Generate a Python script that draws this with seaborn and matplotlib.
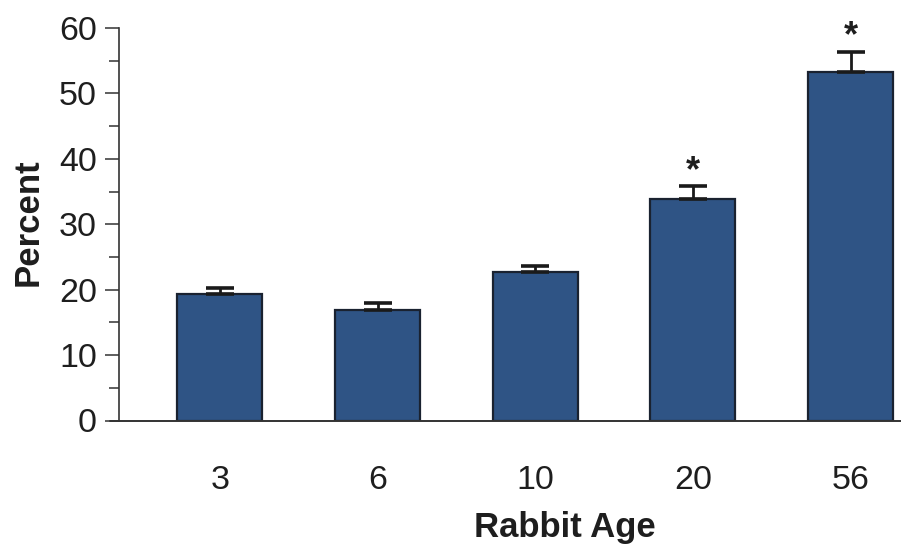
import matplotlib
matplotlib.use("Agg")
import matplotlib.pyplot as plt
from matplotlib.ticker import MultipleLocator
import seaborn as sns
import pandas as pd

ages = ["3", "6", "10", "20", "56"]
percent = [19.3, 16.9, 22.7, 33.8, 53.3]
sem = [0.9, 1.0, 0.85, 2.1, 3.1]
significant = [False, False, False, True, True]

sns.set_theme(style="white")
plt.rcParams["font.family"] = ["Liberation Sans", "DejaVu Sans"]

df = pd.DataFrame({"age": ages, "percent": percent})

fig = plt.figure(figsize=(9.01, 5.48), dpi=100)
ax = fig.add_axes([119 / 901, 127.5 / 548, 1 - 119 / 901, 392.5 / 548])

bar_color = "#2f5485"
sns.barplot(data=df, x="age", y="percent", color=bar_color, width=0.54,
            saturation=1, edgecolor="#1a2230", linewidth=1.6, ax=ax)

# upward-only error bars
xs = range(len(ages))
ax.errorbar(xs, percent, yerr=[[0] * len(sem), sem], fmt="none",
            ecolor="#1a1a1a", elinewidth=2.0, capsize=10, capthick=2.6, zorder=5)

for x, y, e, sig in zip(xs, percent, sem, significant):
    if sig:
        ax.text(x, y + e + 2.2, "*", ha="center", va="center",
                fontsize=26, fontweight="bold", color="#1e1e1e")

ax.set_xlim(-0.64, 4.32)
ax.set_ylim(0, 60)
ax.yaxis.set_major_locator(MultipleLocator(10))
ax.yaxis.set_minor_locator(MultipleLocator(5))

for side in ("top", "right"):
    ax.spines[side].set_visible(False)
ax.spines["left"].set_color("#333333")
ax.spines["left"].set_linewidth(1.2)
ax.spines["bottom"].set_visible(False)
ax.plot([-0.012, 1], [0, 0], transform=ax.transAxes, color="#333333",
        lw=1.4, clip_on=False, zorder=6)

ax.tick_params(axis="y", which="major", direction="out", length=10, width=1.1,
               color="#333333", labelsize=24.5, pad=6, left=True)
ax.tick_params(axis="y", which="minor", direction="out", length=7, width=1.1,
               color="#333333", left=True)
ax.tick_params(axis="x", length=0, labelsize=24.5, pad=32)

ax.set_xlabel("")
ax.set_ylabel("")
fig.text(565 / 901, 1 - 527 / 548, "Rabbit Age", ha="center", va="center",
         fontsize=25, fontweight="bold", color="#1e1e1e")
fig.text(28 / 901, 1 - 222 / 548, "Percent", ha="center", va="center",
         rotation=90, fontsize=25, fontweight="bold", color="#1e1e1e")

for lab in ax.get_xticklabels() + ax.get_yticklabels():
    lab.set_color("#1e1e1e")

fig.savefig("out.png", dpi=100)
